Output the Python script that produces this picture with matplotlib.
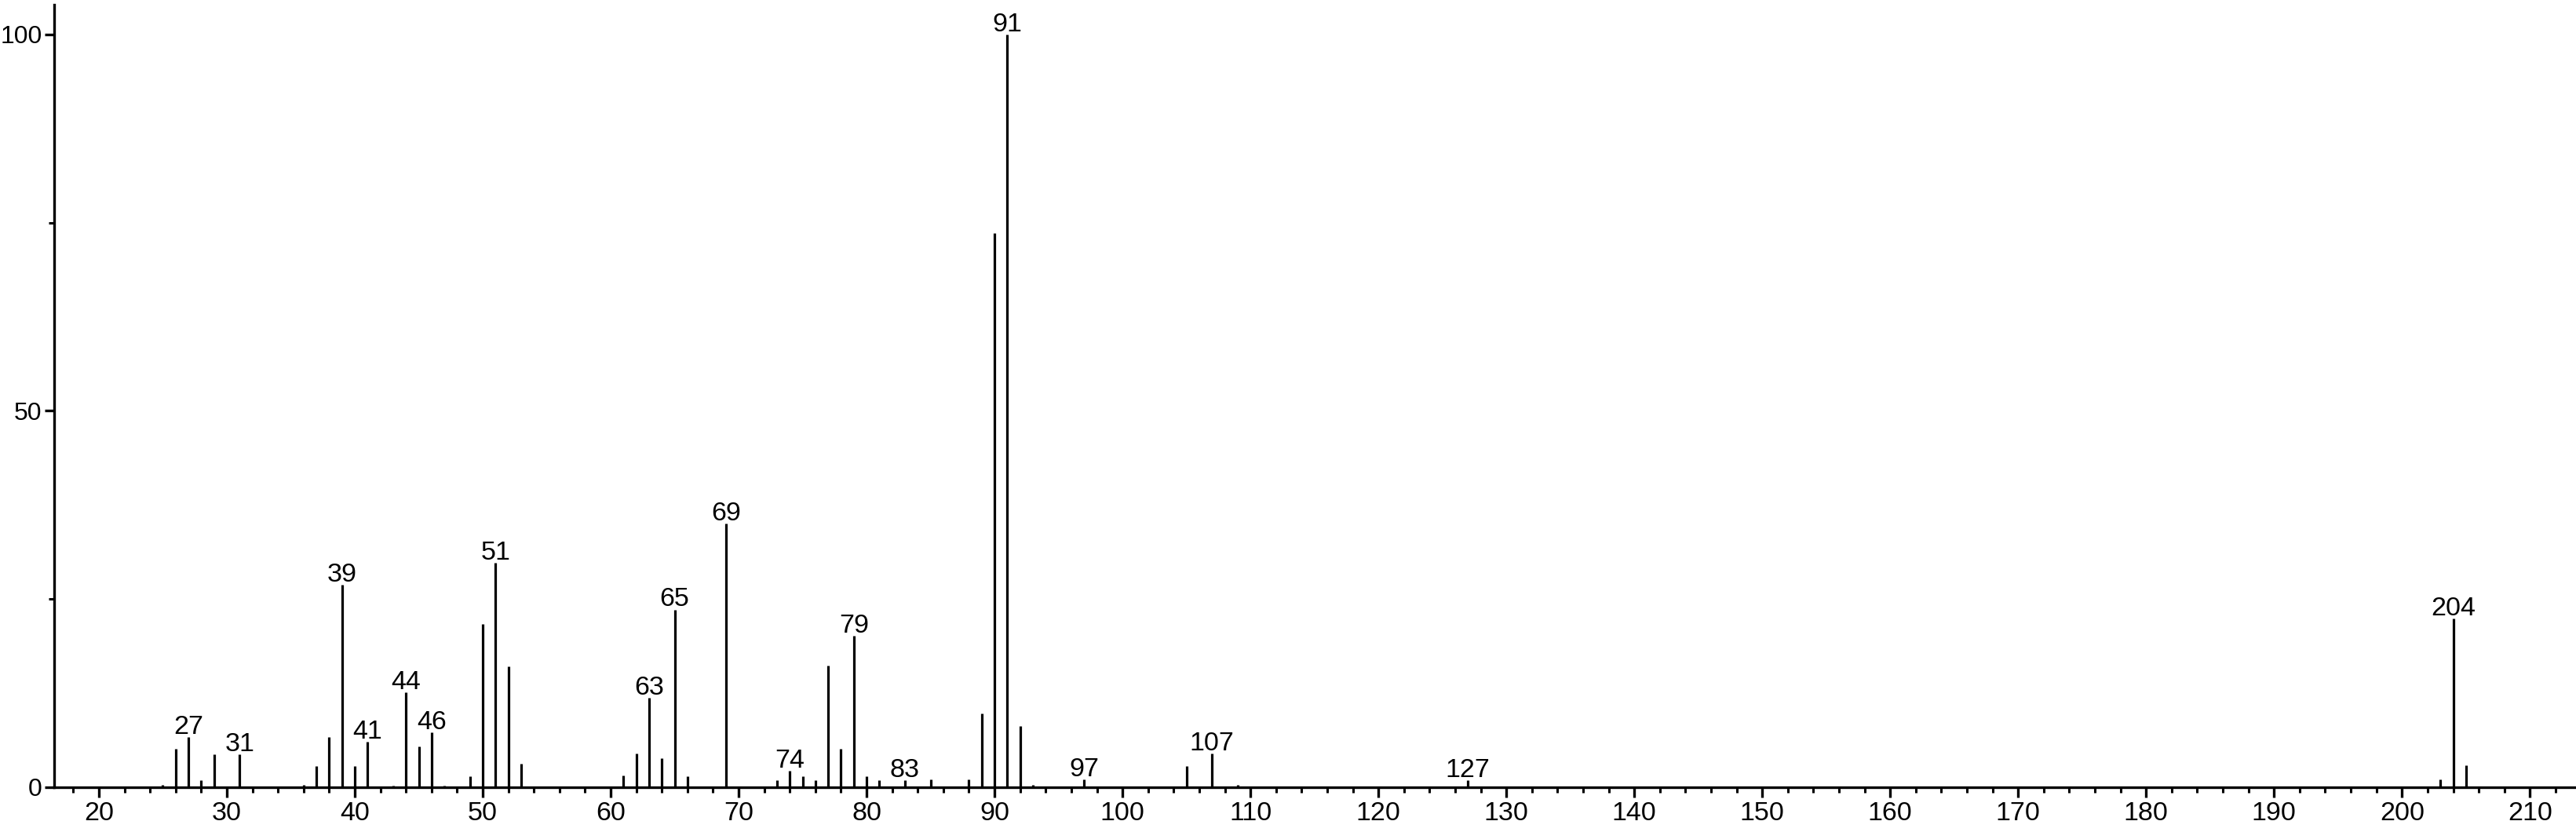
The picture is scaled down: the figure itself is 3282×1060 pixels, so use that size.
import matplotlib.pyplot as plt
from matplotlib.ticker import MultipleLocator

plt.rcParams['font.family'] = ['Liberation Sans', 'DejaVu Sans']

# m/z values and relative intensities
mz = [25, 26, 27, 28, 29, 31, 36, 37, 38, 39, 40, 41, 43, 44, 45, 46, 47, 49,
      50, 51, 52, 53, 61, 62, 63, 64, 65, 66, 69, 73, 74, 75, 76, 77, 78, 79,
      80, 81, 83, 85, 88, 89, 90, 91, 92, 93, 97, 105, 107, 109, 127,
      203, 204, 205]
intensity = [0.3, 5.1, 6.7, 0.9, 4.4, 4.4, 0.3, 2.8, 6.7, 26.9, 2.8, 6.0, 0.2,
             12.6, 5.4, 7.3, 0.2, 1.5, 21.7, 29.8, 16.1, 3.1, 1.6, 4.5, 11.9,
             3.9, 23.6, 1.5, 35.0, 0.9, 2.2, 1.5, 0.9, 16.2, 5.1, 20.1, 1.5,
             0.9, 0.9, 1.0, 1.0, 9.8, 73.6, 100.0, 8.1, 0.3, 1.0, 2.8, 4.5,
             0.3, 0.9, 1.0, 22.4, 2.9]
labelled = [27, 31, 39, 41, 44, 46, 51, 63, 65, 69, 74, 79, 83, 91, 97, 107,
            127, 204]

fig = plt.figure(figsize=(32.82, 10.60), dpi=100)
ax = fig.add_axes([0.021, 0.0538, 0.979, 0.941])

ax.vlines(mz, 0, intensity, colors='black', linewidth=2.3)

for m, h in zip(mz, intensity):
    if m in labelled:
        ax.annotate(str(m), (m, h), xytext=(0, 3), textcoords='offset points',
                    ha='center', va='baseline', fontsize=24.5)

ax.set_xlim(16.5, 213.6)
ax.set_ylim(0, 104)
ax.xaxis.set_major_locator(MultipleLocator(10))
ax.xaxis.set_minor_locator(MultipleLocator(2))
ax.set_yticks([0, 50, 100])
ax.yaxis.set_minor_locator(MultipleLocator(25))

for s in ['top', 'right']:
    ax.spines[s].set_visible(False)
for s in ['left', 'bottom']:
    ax.spines[s].set_linewidth(2.4)

ax.tick_params(axis='both', which='major', length=9, width=2.4, direction='out')
ax.tick_params(axis='both', which='minor', length=5, width=2.2, direction='out')
ax.tick_params(axis='x', which='major', pad=4, labelsize=24.5)
ax.tick_params(axis='y', which='major', pad=2, labelsize=23)

fig.savefig('out.png', dpi=100, facecolor='white')
